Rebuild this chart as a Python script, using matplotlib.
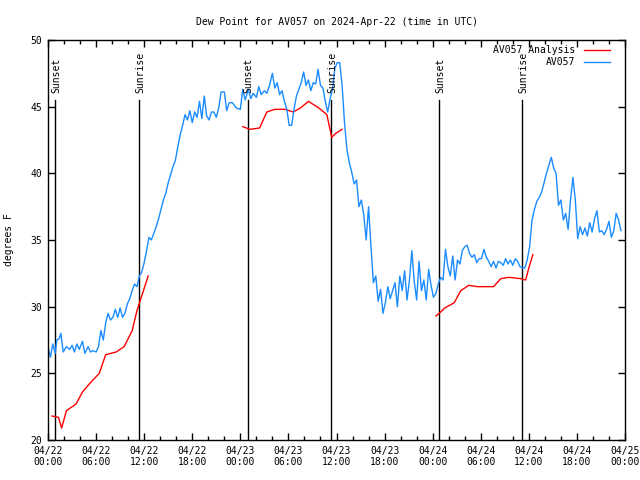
import matplotlib
matplotlib.use('Agg')
import matplotlib.pyplot as plt

plt.rcParams['font.family'] = ['DejaVu Sans Mono']
plt.rcParams['font.size'] = 7

# hours since 04/22 00:00 UTC
obs_hours = [0.0, 0.3, 0.6, 0.9, 1.1, 1.4, 1.6, 1.9, 2.3, 2.7, 3.0, 3.3, 3.6, 3.9, 4.3, 4.6, 5.0, 5.3, 5.6, 6.0,
             6.3, 6.6, 6.9, 7.2, 7.5, 7.8, 8.1, 8.4, 8.7, 9.0, 9.3, 9.6, 9.9, 10.2, 10.5, 10.8, 11.1, 11.4, 11.7, 12.0,
             12.3, 12.6, 12.9, 13.2, 13.5, 13.8, 14.1, 14.4, 14.7, 15.0, 15.3, 15.6, 15.9, 16.2, 16.5, 16.8, 17.1, 17.4, 17.7, 18.0,
             18.3, 18.6, 18.9, 19.2, 19.5, 19.8, 20.1, 20.4, 20.7, 21.0, 21.3, 21.6, 22.0, 22.3, 22.6, 23.0, 23.5, 24.0, 24.3, 24.6,
             25.0, 25.3, 25.6, 26.0, 26.3, 26.6, 27.0, 27.3, 27.6, 28.0, 28.3, 28.6, 28.9, 29.2, 29.5, 29.8, 30.1, 30.4, 30.7, 31.0,
             31.3, 31.6, 31.9, 32.2, 32.5, 32.8, 33.1, 33.4, 33.7, 34.0, 34.3, 34.6, 34.9, 35.2, 35.5, 35.8, 36.1, 36.4, 36.7, 37.0,
             37.3, 37.6, 37.9, 38.2, 38.5, 38.8, 39.1, 39.4, 39.7, 40.0, 40.3, 40.6, 40.9, 41.2, 41.5, 41.8, 42.1, 42.4, 42.7, 43.0,
             43.3, 43.6, 43.9, 44.2, 44.5, 44.8, 45.1, 45.4, 45.7, 46.0, 46.3, 46.6, 46.9, 47.2, 47.5, 47.8, 48.1, 48.4, 48.7, 49.0,
             49.3, 49.6, 49.9, 50.2, 50.5, 50.8, 51.1, 51.4, 51.7, 52.0, 52.3, 52.6, 52.9, 53.2, 53.5, 53.8, 54.1, 54.4, 54.7, 55.0,
             55.3, 55.6, 55.9, 56.2, 56.5, 56.8, 57.1, 57.4, 57.7, 58.0, 58.3, 58.6, 58.9, 59.2, 59.5, 59.8, 60.1, 60.4, 60.7, 61.0,
             61.3, 61.6, 61.9, 62.2, 62.5, 62.8, 63.1, 63.4, 63.7, 64.0, 64.3, 64.6, 64.9, 65.2, 65.5, 65.8, 66.1, 66.4, 66.7, 67.0,
             67.3, 67.6, 67.9, 68.2, 68.5, 68.8, 69.1, 69.4, 69.7, 70.0, 70.3, 70.6, 70.9, 71.2, 71.5]
obs_dewpt = [27.0, 26.2, 27.2, 26.5, 27.5, 27.6, 28.0, 26.6, 27.0, 26.8, 27.1, 26.6, 27.2, 26.8, 27.4, 26.5, 27.0, 26.6, 26.7, 26.6,
             27.0, 28.2, 27.5, 28.8, 29.5, 29.0, 29.2, 29.8, 29.2, 29.9, 29.2, 29.5, 30.2, 30.6, 31.2, 31.7, 31.5, 32.3, 32.6, 33.3,
             34.2, 35.2, 35.0, 35.5, 36.0, 36.6, 37.3, 38.0, 38.5, 39.3, 39.9, 40.5, 41.0, 42.0, 42.9, 43.6, 44.4, 44.0, 44.7, 43.8,
             44.6, 44.2, 45.4, 44.1, 45.8, 44.3, 44.0, 44.6, 44.6, 44.2, 44.9, 46.1, 46.1, 44.7, 45.3, 45.3, 44.9, 44.8, 46.3, 45.5,
             46.3, 45.6, 46.0, 45.7, 46.5, 45.9, 46.2, 46.0, 46.5, 47.5, 46.4, 46.8, 45.9, 46.2, 45.4, 44.8, 43.6, 43.6, 44.8, 45.8,
             46.3, 46.8, 47.6, 46.6, 47.0, 46.2, 46.8, 46.7, 47.8, 46.6, 46.4, 45.4, 44.6, 45.6, 46.3, 47.9, 48.3, 48.3, 46.6, 43.8,
             41.8, 40.8, 40.1, 39.2, 39.5, 37.5, 38.0, 36.9, 35.0, 37.5, 34.5, 31.8, 32.3, 30.4, 31.3, 29.5, 30.3, 31.5, 30.6, 31.2,
             31.8, 30.0, 32.3, 31.2, 32.7, 30.5, 32.0, 34.2, 31.9, 30.5, 33.4, 31.2, 32.0, 30.5, 32.8, 31.6, 30.7, 31.0, 31.7, 32.2,
             32.0, 34.3, 33.0, 32.3, 33.8, 32.0, 33.5, 33.2, 34.2, 34.5, 34.6, 34.0, 33.7, 33.9, 33.3, 33.6, 33.6, 34.3, 33.7, 33.4,
             33.0, 33.4, 32.9, 33.4, 33.3, 33.1, 33.6, 33.2, 33.5, 33.1, 33.6, 33.4, 33.0, 32.9, 32.9, 33.5, 34.5, 36.5, 37.3, 37.9,
             38.2, 38.6, 39.3, 40.0, 40.6, 41.2, 40.4, 40.0, 37.6, 38.0, 36.5, 37.0, 35.8, 38.0, 39.7, 38.0, 35.1, 36.0, 35.4, 35.9,
             35.3, 36.3, 35.6, 36.6, 37.2, 35.6, 35.7, 35.4, 35.8, 36.4, 35.2, 35.7, 37.0, 36.5, 35.7]

# analysis, three separate runs
ana1_hours = [0.5, 1.3, 1.7, 2.3, 3.5, 4.3, 5.3, 6.4, 7.2, 8.5, 9.5, 10.5, 11.1, 11.8, 12.5]
ana1_dewpt = [21.8, 21.7, 20.9, 22.2, 22.7, 23.6, 24.3, 25.0, 26.4, 26.6, 27.0, 28.2, 29.7, 31.0, 32.3]
ana2_hours = [24.3, 25.2, 26.4, 27.3, 28.3, 29.6, 30.6, 31.5, 32.5, 33.8, 34.8, 35.4, 35.9, 36.7]
ana2_dewpt = [43.5, 43.3, 43.4, 44.6, 44.8, 44.8, 44.6, 44.9, 45.4, 44.9, 44.4, 42.7, 43.0, 43.3]
ana3_hours = [48.4, 49.0, 49.5, 50.1, 50.7, 51.5, 52.5, 53.6, 55.0, 55.6, 56.5, 57.5, 59.0, 59.6, 60.0, 60.5]
ana3_dewpt = [29.3, 29.6, 29.9, 30.1, 30.3, 31.2, 31.6, 31.5, 31.5, 31.5, 32.1, 32.2, 32.1, 32.0, 32.9, 33.9]

sun_hours = [0.9, 11.4, 24.9, 35.35, 48.85, 59.2]
sun_labels = ['Sunset', 'Sunrise', 'Sunset', 'Sunrise', 'Sunset', 'Sunrise']

tick_hours = [0, 6, 12, 18, 24, 30, 36, 42, 48, 54, 60, 66, 72]
tick_labels = ['04/22\n00:00', '04/22\n06:00', '04/22\n12:00', '04/22\n18:00',
               '04/23\n00:00', '04/23\n06:00', '04/23\n12:00', '04/23\n18:00',
               '04/24\n00:00', '04/24\n06:00', '04/24\n12:00', '04/24\n18:00',
               '04/25\n00:00']

red = '#ff0000'
blue = '#1a8cff'

fig = plt.figure(figsize=(6.4, 4.8), dpi=100)
ax = fig.add_axes([48/640, 40/480, 577/640, 400/480])

# sunrise / sunset markers
for h, lab in zip(sun_hours, sun_labels):
    ax.plot([h, h], [20, 45.5], color='black', lw=1)
    ax.text(h + 0.1, 46.0, lab, rotation=90, ha='center', va='bottom')

ax.plot(ana1_hours, ana1_dewpt, color=red, lw=1, label='AV057 Analysis')
ax.plot(ana2_hours, ana2_dewpt, color=red, lw=1)
ax.plot(ana3_hours, ana3_dewpt, color=red, lw=1)
ax.plot(obs_hours, obs_dewpt, color=blue, lw=1, label='AV057')

ax.set_xlim(0, 72)
ax.set_ylim(20, 50)
ax.set_xticks(tick_hours)
ax.set_xticklabels(tick_labels)
ax.set_xticks(range(0, 73, 2), minor=True)
ax.set_yticks(range(20, 51, 5))
ax.tick_params(which='both', direction='in', top=True, right=True, color='black')
ax.tick_params(which='major', length=5, width=1, pad=4)
ax.tick_params(which='minor', length=3, width=1)
for s in ax.spines.values():
    s.set_linewidth(1)

ax.set_ylabel('degrees F')
ax.yaxis.set_label_coords(-34/577, 0.5)
ax.set_title('Dew Point for AV057 on 2024-Apr-22 (time in UTC)', fontsize=7, pad=11)

ax.legend(loc='upper right', bbox_to_anchor=(610/640, 1 - 45/480), bbox_transform=fig.transFigure,
          frameon=False, markerfirst=False, borderaxespad=0, borderpad=0,
          handlelength=2.7, handletextpad=0.9, labelspacing=0.25)

plt.savefig('out.png', dpi=100)
